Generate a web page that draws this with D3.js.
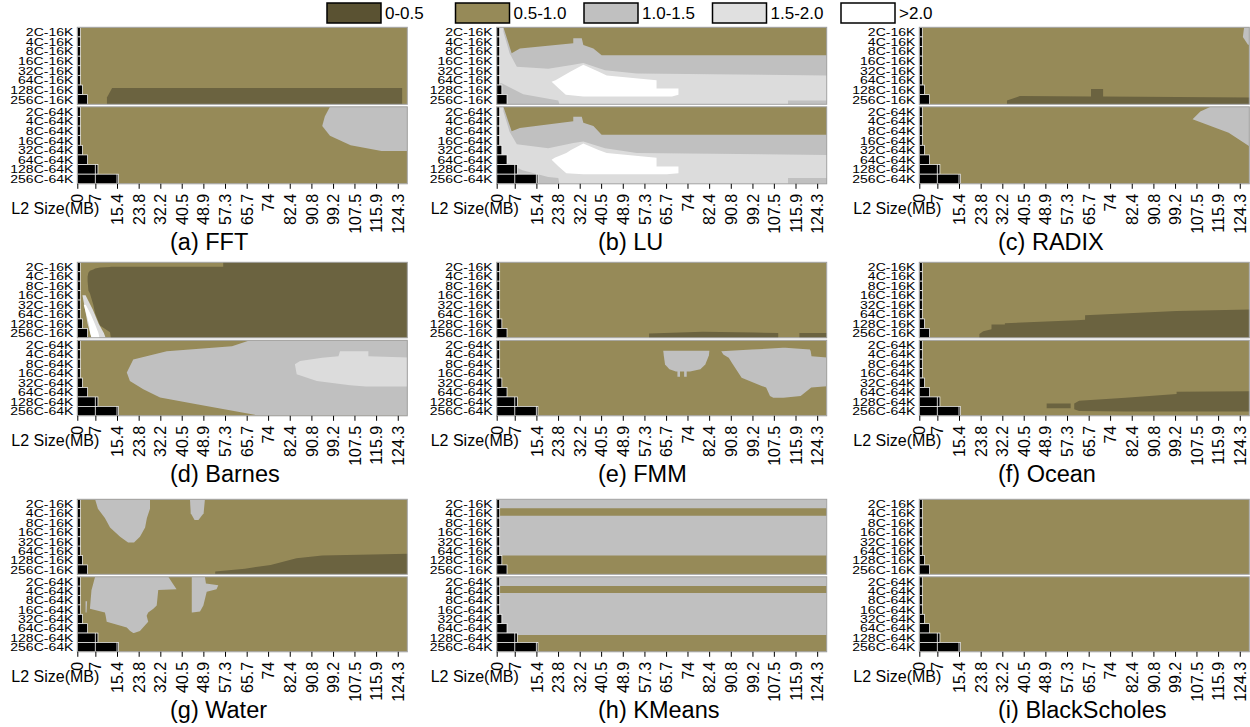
<!DOCTYPE html>
<html>
<head>
<meta charset="utf-8">
<script src="https://cdn.jsdelivr.net/npm/d3@7"></script>
<style>
    body { margin: 0; background: #fff; }
    text { font-family: "Liberation Sans", Arial, sans-serif; fill: #000; }
</style>
</head>
<body>
<svg id="chart" width="1250" height="727"></svg>
<script>
// speedup classes, L2 ticks, configs
var classNames = ["0-0.5", "0.5-1.0", "1.0-1.5", "1.5-2.0", ">2.0"];
var coreCounts = [2, 4, 8, 16, 32, 64, 128, 256];
var l1Sizes = [16, 64];
var l2Ticks = [0, 7, 15.4, 23.8, 32.2, 40.5, 48.9, 57.3, 65.7, 74, 82.4, 90.8, 99.2, 107.5, 115.9, 124.3];
var panelTitles = ["(a) FFT", "(b) LU", "(c) RADIX", "(d) Barnes", "(e) FMM", "(f) Ocean",
    "(g) Water", "(h) KMeans", "(i) BlackScholes"];

// regions: c = class index
// v: [L2 MB, top row, bottom row]   h: [row, left MB, right MB]
var fft16 = [
    { c: 1, all: true },
    { c: 0, v: [[11.5, 7.3, 8], [13.5, 6.3, 8], [126, 6.3, 8]] }
];
var fft64 = [
    { c: 1, all: true },
    { c: 2, h: [[0, 98, 130], [1, 96, 130], [2, 95, 130], [3, 98, 130], [4, 106, 130], [4.6, 118, 130]] }
];
var lu16 = [
    { c: 3, all: true },
    { c: 2, v: [[2.6, 0, 0.5], [5, 0, 2.7], [7.8, 0, 4.1], [20, 0, 4.3], [29.7, 0, 3.9], [33.6, 0, 3.7], [42, 0, 4.45], [54.3, 0, 4.8], [130, 0, 5]] },
    { c: 2, v: [[0, 5.8, 8], [1.9, 5.8, 8], [10.3, 6.95, 8], [23.9, 7.6, 8], [24.3, 8, 8]] },
    { c: 2, v: [[113, 7.6, 8], [130, 7.6, 8]] },
    { c: 1, v: [[2.6, 0, 0], [5.8, 0, 2.7], [9, 0, 2.2], [29.7, 0, 1.67], [29.7, 0, 1.15], [33, 0, 1.15], [33.6, 0, 1.85], [37.5, 0, 2.2], [40.7, 0, 2.9], [130, 0, 2.9]] },
    { c: 4, h: [[3.9, 33.6, 33.6], [4.6, 28.7, 39.4], [5.0, 26, 42.7], [5.5, 22.8, 62], [5.67, 21.3, 62], [6.35, 24.1, 62], [6.36, 24.1, 70.5], [7.0, 26.8, 70.5], [7.2, 33.6, 68]] }
];
var lu64 = [
    { c: 3, all: true },
    { c: 2, v: [[2.6, 0, 0.5], [5, 0, 2.6], [7.8, 0, 3.9], [20, 0, 4.3], [29.7, 0, 3.75], [33.6, 0, 3.6], [42, 0, 4.3], [54.3, 0, 4.8], [130, 0, 5]] },
    { c: 2, v: [[0, 5.5, 8], [3, 5.7, 8], [10, 6.6, 8], [20, 7.3, 8], [23.9, 7.4, 8], [24.3, 8, 8]] },
    { c: 2, v: [[113, 7.4, 8], [130, 7.4, 8]] },
    { c: 1, v: [[2.6, 0, 0], [5.8, 0, 2.55], [9, 0, 2.2], [29.7, 0, 1.5], [29.7, 0, 1.04], [33, 0, 1.04], [33.6, 0, 1.67], [37.5, 0, 2.0], [40.7, 0, 2.9], [130, 0, 2.9]] },
    { c: 4, h: [[3.8, 33.6, 33.6], [4.5, 28.8, 39.5], [4.8, 27, 42.7], [5.3, 22.5, 62], [5.5, 21.3, 62], [6.2, 24, 62], [6.21, 24, 70.5], [6.9, 27, 70.5], [7.0, 33.6, 66]] }
];
var radix16 = [
    { c: 1, all: true },
    { c: 0, v: [[34, 7.6, 8], [39, 7.15, 8], [66.6, 7.2, 8], [66.6, 6.4, 8], [71.3, 6.4, 8], [71.3, 7.2, 8], [130, 7.3, 8]] },
    { c: 2, h: [[0, 126, 130], [1, 125.5, 130], [1.8, 127.5, 130]] }
];
var radix64 = [
    { c: 1, all: true },
    { c: 2, h: [[0, 113, 130], [0.5, 109, 130], [1.3, 106, 130], [2.0, 113, 130], [2.7, 120, 130], [4.1, 128, 130]] }
];
var barnes16 = [
    { c: 1, all: true },
    { c: 0, v: [[4.0, 1.5, 2.0], [4.3, 1.1, 3.0], [4.9, 0.9, 3.3], [6.2, 0.75, 4.5], [6.9, 0.65, 5.4], [8.8, 0.55, 6.7], [12.7, 0.5, 7.4], [13, 0.47, 8], [56.6, 0.47, 8], [56.6, 0, 8], [130, 0, 8]] },
    { c: 3, h: [[3.5, 2, 3.2], [5, 3, 6], [6.5, 4, 8.3], [7.5, 5, 10.3], [8, 5.5, 11]] },
    { c: 4, h: [[4.5, 2.5, 3.3], [5.5, 3.5, 5.2], [6.5, 4.5, 6.8], [7.5, 5, 8.2], [8, 5.5, 8.6]] }
];
var barnes64 = [
    { c: 1, all: true },
    { c: 2, h: [[0, 67, 130], [0.63, 60, 130], [1.16, 34.7, 130], [2.03, 21.7, 130], [3.4, 19.2, 130], [4.3, 20.4, 130], [5.2, 25.6, 130], [6.06, 32.1, 130], [6.77, 46.3, 130], [8, 70.9, 130]] },
    { c: 3, h: [[1.16, 101.9, 112.9], [1.68, 101.3, 112.9], [1.85, 95, 130], [2.2, 86.4, 130], [2.55, 84.4, 130], [3.6, 85.1, 130], [4.3, 92.9, 130], [4.75, 105.8, 130], [4.9, 112, 130]] }
];
var fmm16 = [
    { c: 1, all: true },
    { c: 0, v: [[59.1, 7.55, 8], [80, 7.35, 8], [100, 7.45, 8], [109.2, 7.5, 8]] },
    { c: 0, v: [[117.4, 7.5, 8], [130, 7.5, 8]] }
];
var fmm64 = [
    { c: 1, all: true },
    { c: 2, h: [[1.12, 64.6, 82.5], [1.6, 64.8, 82.3], [2.56, 65.3, 80.9], [3.08, 67, 79], [3.3, 69.5, 75]] },
    { c: 2, h: [[3.2, 70.1, 71.1], [3.86, 70.1, 71.1]] },
    { c: 2, h: [[3.2, 72.7, 73.7], [3.86, 72.7, 73.7]] },
    { c: 2, h: [[0.8, 111, 112], [0.98, 99, 121.5], [1.16, 87.1, 121.8], [1.5, 87.9, 122], [1.68, 89, 122.1], [1.85, 90, 130], [2.38, 91.2, 130], [3.96, 95, 130], [4.84, 102.8, 130], [5.0, 104.5, 122], [5.9, 106, 117.9], [6.1, 107.3, 111.2]] }
];
var ocean16 = [
    { c: 1, all: true },
    { c: 0, v: [[23.3, 7.6, 8], [24.8, 7.3, 8], [28, 7.1, 8], [28, 6.6, 8], [33.2, 6.6, 8], [33.2, 6.45, 8], [61, 6.15, 8], [64.3, 6.1, 8], [64.3, 5.6, 8], [99.8, 5.15, 8], [130, 5.0, 8]] }
];
var ocean64 = [
    { c: 1, all: true },
    { c: 0, v: [[49.4, 6.7, 7.2], [58.7, 6.7, 7.2]] },
    { c: 0, v: [[60.1, 6.7, 7.3], [62, 6.4, 7.5], [80, 6.1, 7.55], [99.8, 5.7, 7.55], [99.8, 5.45, 7.55], [130, 5.4, 7.55]] }
];
var water16 = [
    { c: 1, all: true },
    { c: 2, h: [[0, 6.9, 28.2], [1, 8, 28.2], [2, 10.7, 27], [3, 12.7, 26.3], [4, 16.6, 24.3], [4.6, 19.7, 22]] },
    { c: 2, h: [[0, 43.7, 49.5], [1.5, 44, 49], [2.2, 45.5, 47]] },
    { c: 0, v: [[53.5, 7.7, 8], [65, 7.4, 8], [75, 7.0, 8], [85, 6.3, 8], [95, 6.0, 8], [130, 5.8, 8]] }
];
var water64 = [
    { c: 1, all: true },
    { c: 2, h: [[0, 6.9, 35.3], [0.72, 6.2, 37], [1.34, 5.6, 38.5], [1.4, 5.5, 31.4], [3.07, 5.0, 30.8], [3.4, 4.9, 29.5], [3.8, 10.7, 27.5], [4.15, 11, 26.9], [4.8, 11.4, 27.5], [5.4, 19.2, 25.5], [5.77, 20.5, 24.3], [6.0, 21.7, 22]] },
    { c: 2, h: [[2.6, 3.2, 3.8], [3.8, 3.2, 3.6]] },
    { c: 2, h: [[0, 44.4, 49.5], [0.72, 44.4, 49.9], [0.9, 44.4, 54.7], [1.34, 44.4, 54], [1.6, 44.4, 50.2], [3.07, 44.4, 48.9], [3.7, 44.4, 47.6], [3.8, 44.4, 44.6]] }
];
var kmeans16 = [
    { c: 2, all: true },
    { c: 1, h: [[0.95, 0, 130], [1.75, 0, 130]] },
    { c: 1, h: [[6.0, 0, 130], [8, 0, 130]] }
];
var kmeans64 = [
    { c: 2, all: true },
    { c: 1, h: [[0.97, 0, 130], [1.73, 0, 130]] },
    { c: 1, h: [[6.2, 0, 130], [8, 0, 130]] }
];
var blackscholes16 = [{ c: 1, all: true }];
var blackscholes64 = [{ c: 1, all: true }];

var panels = [
    [fft16, fft64], [lu16, lu64], [radix16, radix64],
    [barnes16, barnes64], [fmm16, fmm64], [ocean16, ocean64],
    [water16, water64], [kmeans16, kmeans64], [blackscholes16, blackscholes64]
];

// layout
var colLeft = [77.3, 496.7, 919.3];
var rowTop = [27.3, 262.3, 499.3];
var rowSubH = [77, 75.5, 75];
var subGap = 2.5;
var plotW = 330;
var titleX = [170, 598, 998];

var colours = ["#6b6340", "#968a58", "#c0c0c0", "#dcdcdc", "#ffffff"];
var legendColours = ["#5a5232", "#968a58", "#c0c0c0", "#e0e0e0", "#ffffff"];

var svg = d3.select("#chart");
var x = d3.scaleLinear().domain([0, 128]).range([0, plotW]);
var line = d3.line();

// Legend
var legend = svg.append("g").attr("class", "legend");
classNames.forEach(function (name, i) {
    var lx = 327 + i * 128.5;
    legend.append("rect")
        .attr("x", lx).attr("y", 3)
        .attr("width", 54).attr("height", 20)
        .attr("fill", legendColours[i])
        .attr("stroke", "#000").attr("stroke-width", 1.5);
    legend.append("text")
        .attr("x", lx + 58).attr("y", 13)
        .attr("dy", "0.35em")
        .attr("font-size", "17px")
        .text(name);
});

panels.forEach(function (maps, i) {
    var col = i % 3, row = Math.floor(i / 3);
    var h = rowSubH[row];
    var g = svg.append("g")
        .attr("transform", "translate(" + colLeft[col] + "," + rowTop[row] + ")");
    var y = d3.scaleLinear().domain([0, 8]).range([0, h]);
    var band = d3.scaleBand().domain(coreCounts).range([0, h]);

    maps.forEach(function (regions, s) {
        var sg = g.append("g").attr("transform", "translate(0," + (s * (h + subGap)) + ")");
        var clipId = "clip-" + i + "-" + s;
        sg.append("clipPath").attr("id", clipId)
            .append("rect").attr("width", plotW).attr("height", h);
        var rg = sg.append("g").attr("clip-path", "url(#" + clipId + ")");

        regions.forEach(function (r) {
            var pts;
            if (r.all) {
                pts = [[0, 0], [plotW, 0], [plotW, h], [0, h]];
            } else if (r.v) {
                pts = r.v.map(function (p) { return [x(p[0]), y(p[1])]; })
                    .concat(r.v.slice().reverse().map(function (p) { return [x(p[0]), y(p[2])]; }));
            } else {
                pts = r.h.map(function (p) { return [x(p[1]), y(p[0])]; })
                    .concat(r.h.slice().reverse().map(function (p) { return [x(p[2]), y(p[0])]; }));
            }
            rg.append("path").attr("d", line(pts) + "Z").attr("fill", colours[r.c]);
        });

        // black bars: invalid L2 sizes (cores x L1)
        coreCounts.forEach(function (c) {
            var mb = c * l1Sizes[s] / 1024;
            var w = Math.max(x(mb), 3);
            rg.append("rect")
                .attr("x", 0).attr("y", band(c))
                .attr("width", w).attr("height", band.bandwidth())
                .attr("fill", "#000")
                .attr("stroke", "#fff").attr("stroke-width", 0.7);
            l2Ticks.filter(function (t) { return t > 0 && t < mb - 0.3; }).forEach(function (t) {
                rg.append("line")
                    .attr("x1", x(t)).attr("x2", x(t))
                    .attr("y1", band(c)).attr("y2", band(c) + band.bandwidth())
                    .attr("stroke", "#fff").attr("stroke-width", 0.8);
            });
        });

        sg.append("rect")
            .attr("x", 0).attr("y", 0)
            .attr("width", plotW).attr("height", h)
            .attr("fill", "none")
            .attr("stroke", "#a0a0a0").attr("stroke-width", 1);

        // row labels
        coreCounts.forEach(function (c) {
            sg.append("text")
                .attr("transform", "translate(-4," + (band(c) + band.bandwidth() / 2) + ") scale(1,0.82)")
                .attr("dy", "0.35em")
                .attr("text-anchor", "end")
                .attr("font-size", "14px")
                .text(c + "C-" + l1Sizes[s] + "K");
        });
    });

    var bottom = 2 * h + subGap;
    var xAxisCall = d3.axisBottom(x)
        .tickValues(l2Ticks)
        .tickSize(5)
        .tickFormat(function (d) { return String(d); });
    var xAxis = g.append("g")
        .attr("class", "x axis")
        .attr("transform", "translate(0," + bottom + ")")
        .call(xAxisCall);
    xAxis.select(".domain").remove();
    xAxis.selectAll("text")
        .attr("transform", "rotate(-90)")
        .attr("text-anchor", "end")
        .attr("x", -10).attr("y", 0)
        .attr("dy", "0.35em")
        .attr("font-size", "16px")
        .attr("font-family", "Liberation Sans, Arial, sans-serif");

    g.append("text")
        .attr("x", -66).attr("y", bottom + 30)
        .attr("font-size", "16px")
        .text("L2 Size(MB)");

    g.append("text")
        .attr("x", titleX[col] - colLeft[col]).attr("y", bottom + 66)
        .attr("font-size", "23.5px")
        .text(panelTitles[i]);
});
</script>
</body>
</html>
